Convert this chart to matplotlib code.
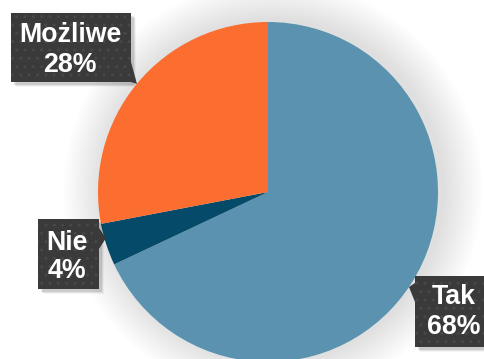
import matplotlib.pyplot as plt
import matplotlib.patches as mpatches

labels = ['Tak', 'Nie', 'Możliwe']
values = [68, 4, 28]
colors = ['#5a92b0', '#064a69', '#fc6e30']

# label boxes as (left, top, width, height) in pixels from the top-left
boxes = [(415, 276, 80, 71), (38, 219, 61, 70), (11, 13, 120, 69)]
text_centre = [(454, 312), (67, 257), (70, 50)]
# callout pointer: two base points on the box edge and the tip
pointers = [
    [(415, 283), (415, 302), (409, 287)],
    [(99, 228), (99, 249), (106, 238)],
    [(131, 62), (131, 82), (137, 84)],
]

W, H = 484, 359
fig = plt.figure(figsize=(W / 100, H / 100), dpi=100)
ax = fig.add_axes([0, 0, 1, 1])

cx, cy, r = 268, H - 192, 170

# soft glow under the pie
for k in range(16):
    ax.add_patch(mpatches.Circle((cx + 5, cy + 2), r + 2 + k * 2.5,
                                 color='#000000', alpha=0.009, lw=0, zorder=0))

ax.pie(values, colors=colors, startangle=90, counterclock=False,
       center=(cx, cy), radius=r, frame=True,
       wedgeprops=dict(linewidth=0))
ax.set_xlim(0, W)
ax.set_ylim(0, H)
ax.set_aspect('equal')
ax.axis('off')

for lab, v, (bx, by, bw, bh), (tx, ty), tri in zip(labels, values, boxes,
                                                   text_centre, pointers):
    # drop shadow
    for k, a in enumerate([0.10, 0.07, 0.04]):
        ax.add_patch(mpatches.Rectangle((bx + 3 + k, H - by - bh - 3 - k), bw, bh,
                                        facecolor='black', alpha=a, lw=0, zorder=3))
    ax.add_patch(mpatches.Rectangle((bx, H - by - bh), bw, bh,
                                    facecolor='#3a3a3a', edgecolor='#484848',
                                    hatch='..', lw=0, zorder=4))
    pts = [(px, H - py) for px, py in tri]
    ax.add_patch(mpatches.Polygon(pts, closed=True, color='#3a3a3a', lw=0, zorder=4))
    ax.text(tx, H - ty, f'{lab}\n{v}%', ha='center', va='center',
            color='white', fontsize=19.3, fontweight='bold',
            family='Liberation Sans', linespacing=1.15, zorder=5)

fig.savefig('out.png', dpi=100)
